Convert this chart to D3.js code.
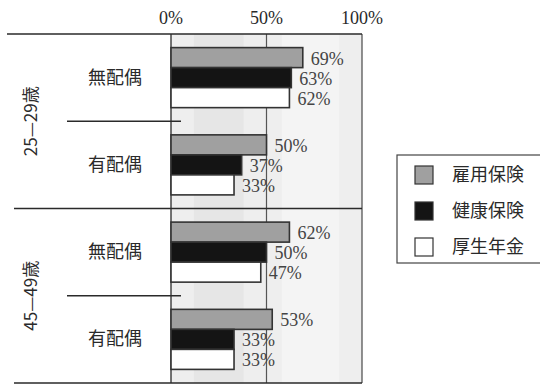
<!DOCTYPE html>
<html>
<head>
<meta charset="utf-8">
<script src="https://cdn.jsdelivr.net/npm/d3@7"></script>
<style>
  html, body { margin: 0; padding: 0; background: #fff; }
  svg { display: block; }
</style>
</head>
<body>
<svg id="chart" width="540" height="384"></svg>
<script>
// Age groups, marital status rows, insurance coverage (%)
const ageGroups = ["25—29歳", "45—49歳"];
const statuses = ["無配偶", "有配偶"];
const series = ["雇用保険", "健康保険", "厚生年金"];
const employment = [69, 50, 62, 53];
const health = [63, 37, 50, 33];
const pension = [62, 33, 47, 33];
const tickValues = [0, 50, 100];

const seriesValues = [employment, health, pension];
const rows = [];
ageGroups.forEach((a, i) => statuses.forEach((s, j) => rows.push({ id: a + s, age: a, status: s, idx: i * 2 + j })));

const fills = { "雇用保険": "#a0a0a0", "健康保険": "#141414", "厚生年金": "#ffffff" };

const svg = d3.select("#chart");
const x = d3.scaleLinear().domain([0, 100]).range([171, 362]);
const y0 = d3.scaleBand().domain(rows.map(r => r.id)).range([34, 383]);
const y1 = d3.scaleBand().domain(series).range([0, y0.bandwidth()]).paddingOuter(0.68);
const ink = "#2a2a2a";

// plot background
svg.append("rect").attr("x", x(0)).attr("y", 34).attr("width", x(100) - x(0)).attr("height", 349)
  .attr("fill", "#eeeeee");
svg.append("rect").attr("x", x(12)).attr("y", 34).attr("width", x(38) - x(12)).attr("height", 349)
  .attr("fill", "#e6e6e6");
svg.append("rect").attr("x", x(58)).attr("y", 34).attr("width", x(88) - x(58)).attr("height", 349)
  .attr("fill", "#f4f4f4");

// top axis labels
svg.append("g").selectAll("text").data(tickValues).join("text")
  .attr("x", d => x(d)).attr("y", 24)
  .attr("text-anchor", "middle")
  .attr("font-family", "Liberation Serif, serif").attr("font-size", 18).attr("fill", ink)
  .text(d => d + "%");

// grid line at 50%
svg.append("line").attr("x1", x(50)).attr("x2", x(50)).attr("y1", 34).attr("y2", 383)
  .attr("stroke", "#555").attr("stroke-width", 1.2);
// frame verticals
svg.append("line").attr("x1", x(0)).attr("x2", x(0)).attr("y1", 34).attr("y2", 383)
  .attr("stroke", ink).attr("stroke-width", 1.3);
svg.append("line").attr("x1", x(100)).attr("x2", x(100)).attr("y1", 34).attr("y2", 383)
  .attr("stroke", "#555").attr("stroke-width", 1.3);

// horizontal rules
const ruleY = [34, y0(rows[2].id), 383];
svg.append("g").selectAll("line").data(ruleY).join("line")
  .attr("x1", (d, i) => i === 0 ? 7 : 14).attr("x2", x(100))
  .attr("y1", d => d).attr("y2", d => d)
  .attr("stroke", ink).attr("stroke-width", 1.5);
// sub-group rules
svg.append("g").selectAll("line").data([rows[1], rows[3]]).join("line")
  .attr("x1", 67).attr("x2", 181)
  .attr("y1", d => y0(d.id)).attr("y2", d => y0(d.id))
  .attr("stroke", ink).attr("stroke-width", 1.3);

// bars
const barData = [];
rows.forEach(r => series.forEach((s, k) => barData.push({ row: r, s, v: seriesValues[k][r.idx] })));
const gBars = svg.append("g");
gBars.selectAll("rect").data(barData).join("rect")
  .attr("x", x(0))
  .attr("y", d => y0(d.row.id) + y1(d.s))
  .attr("width", d => x(d.v) - x(0))
  .attr("height", y1.bandwidth())
  .attr("fill", d => fills[d.s])
  .attr("stroke", "#333").attr("stroke-width", 1.6);

// value labels
gBars.selectAll("text").data(barData).join("text")
  .attr("x", d => x(d.v) + 8)
  .attr("y", d => y0(d.row.id) + y1(d.s) + y1.bandwidth() / 2 + 7)
  .attr("font-family", "Liberation Serif, serif").attr("font-size", 18).attr("fill", "#444")
  .text(d => d.v + "%");

// row labels
svg.append("g").selectAll("text").data(rows).join("text")
  .attr("x", 115).attr("y", d => y0(d.id) + y0.bandwidth() / 2 + 6)
  .attr("text-anchor", "middle")
  .attr("font-family", "Noto Sans CJK JP").attr("font-size", 18).attr("fill", ink)
  .text(d => d.status);

// age group labels (rotated)
svg.append("g").selectAll("text").data(ageGroups).join("text")
  .attr("transform", (d, i) => {
    const cy = (y0(rows[i * 2].id) + y0(rows[i * 2 + 1].id) + y0.bandwidth()) / 2;
    return `translate(37,${cy}) rotate(-90)`;
  })
  .attr("text-anchor", "middle")
  .attr("font-family", "Noto Sans CJK JP").attr("font-size", 17).attr("fill", ink)
  .text(d => d);

// legend
const lg = svg.append("g");
lg.append("rect").attr("x", 397).attr("y", 155).attr("width", 150).attr("height", 108)
  .attr("fill", "#fff").attr("stroke", "#444").attr("stroke-width", 1.2);
const li = lg.selectAll("g.item").data(series).join("g").attr("class", "item")
  .attr("transform", (d, i) => `translate(415,${175 + i * 36})`);
li.append("rect").attr("x", 0).attr("y", -9).attr("width", 18).attr("height", 18)
  .attr("fill", d => fills[d]).attr("stroke", "#333").attr("stroke-width", 1.2);
li.append("text").attr("x", 37).attr("y", 6)
  .attr("font-family", "Noto Sans CJK JP").attr("font-size", 18).attr("fill", ink)
  .text(d => d);
</script>
</body>
</html>
